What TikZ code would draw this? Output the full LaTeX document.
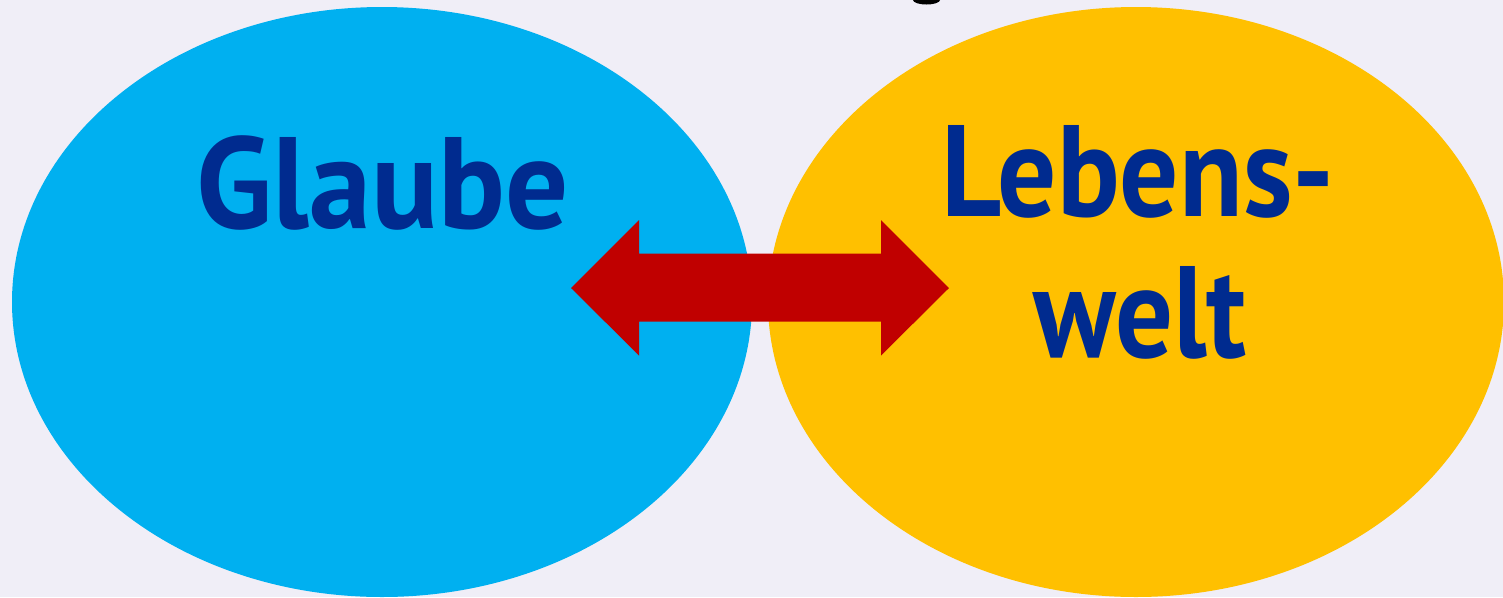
\documentclass[tikz,border=0pt]{standalone}
\usepackage{fontspec}
\setmainfont{PT Sans}
\usetikzlibrary{shapes.geometric}
\definecolor{bgcol}{HTML}{F0EEF7}
\definecolor{glaubeblue}{HTML}{00B0F0}
\definecolor{weltyellow}{HTML}{FFC000}
\definecolor{arrowred}{HTML}{C00000}
\definecolor{textblue}{HTML}{002B8F}
\newcommand{\narrow}[2][0.9]{\scalebox{#1}[1]{#2}}
\tikzset{
  bubble/.style={ellipse, inner sep=0pt, minimum height=5.9cm},
  bigword/.style={text=textblue, font=\fontsize{37}{40}\selectfont\bfseries, anchor=base, inner sep=0pt}
}

\begin{document}
\begin{tikzpicture}
            \fill[bgcol] (0,0) rectangle (15.03,-5.97);
            \useasboundingbox (0,0) rectangle (15.03,-5.97);

            \node[bubble, fill=glaubeblue, minimum width=7.40cm] (glaube) at (3.82,-3.02) {};
            \node[bubble, fill=weltyellow, minimum width=7.36cm] (welt) at (11.36,-3.02) {};

            % cut-off descender of the title above
            \fill[black] (9.265,0) ellipse (0.135 and 0.045);

            \node[bigword] (tglaube) at (3.825,-2.28) {\narrow[0.96]{Glaube}};
            \node[bigword] (tlebens) at (11.38,-2.16) {\narrow{Lebens-}};
            \node[bigword] (twelt) at (11.40,-3.57) {\narrow[0.88]{welt}};

            % double arrow between the two
            \coordinate (lefttip) at (5.71,-2.88);
            \coordinate (righttip) at (9.49,-2.88);
            \fill[arrowred] (lefttip) -- ++(0.68,0.68) -- ++(0,-0.335) -- ++(2.42,0)
                -- ++(0,0.335) -- (righttip) -- ++(-0.68,-0.675) -- ++(0,0.34)
                -- ++(-2.42,0) -- ++(0,-0.34) -- cycle;
\end{tikzpicture}
\end{document}
